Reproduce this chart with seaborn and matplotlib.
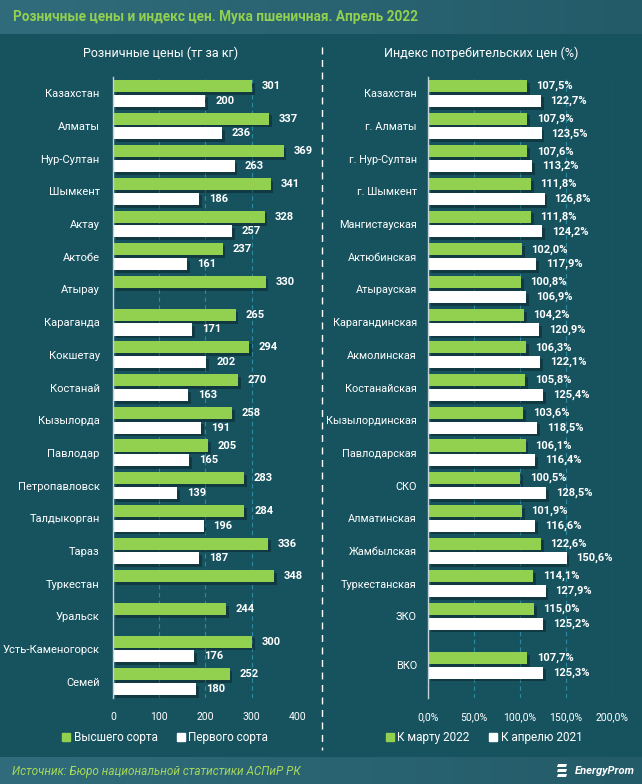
import numpy as np
import pandas as pd
import matplotlib
matplotlib.use('Agg')
from matplotlib import pyplot as plt
from matplotlib import patheffects as pe
from matplotlib.lines import Line2D
from matplotlib.patches import Polygon
import seaborn as sns

sns.set_theme(style='white')
plt.rcParams['font.family'] = ['Roboto', 'DejaVu Sans']

# розничные цены, тг за кг
cities = ['Казахстан', 'Алматы', 'Нур-Султан', 'Шымкент', 'Актау', 'Актобе', 'Атырау',
          'Караганда', 'Кокшетау', 'Костанай', 'Кызылорда', 'Павлодар', 'Петропавловск',
          'Талдыкорган', 'Тараз', 'Туркестан', 'Уральск', 'Усть-Каменогорск', 'Семей']
price_top = [301, 337, 369, 341, 328, 237, 330, 265, 294, 270, 258, 205, 283, 284, 336, 348, 244, 300, 252]
price_first = [200, 236, 263, 186, 257, 161, np.nan, 171, 202, 163, 191, 165, 139, 196, 187, np.nan, np.nan, 176, 180]

# индекс потребительских цен, %
regions = ['Казахстан', 'г. Алматы', 'г. Нур-Султан', 'г. Шымкент', 'Мангистауская', 'Актюбинская',
           'Атырауская', 'Карагандинская', 'Акмолинская', 'Костанайская', 'Кызылординская',
           'Павлодарская', 'СКО', 'Алматинская', 'Жамбылская', 'Туркестанская', 'ЗКО', 'ВКО']
cpi_mar = [107.5, 107.9, 107.6, 111.8, 111.8, 102.0, 100.8, 104.2, 106.3, 105.8, 103.6,
           106.1, 100.5, 101.9, 122.6, 114.1, 115.0, 107.7]
cpi_apr = [122.7, 123.5, 113.2, 126.8, 124.2, 117.9, 106.9, 120.9, 122.1, 125.4, 118.5,
           116.4, 128.5, 116.6, 150.6, 127.9, 125.2, 125.3]

sorts = ['Высшего сорта', 'Первого сорта']
periods = ['К марту 2022', 'К апрелю 2021']

GREEN = '#92d050'
WHITE = '#ffffff'
BG = '#17535f'
GRID = '#2b8aa1'

df_p = pd.DataFrame({'Город': cities * 2,
                     'Сорт': [sorts[0]] * len(cities) + [sorts[1]] * len(cities),
                     'Цена': price_top + price_first}).dropna()

# ВКО стоит чуть ниже, между двумя последними строками слева
pos = np.arange(len(regions), dtype=float)
pos[-1] += 0.5
df_i = pd.DataFrame({'pos': list(pos) * 2,
                     'Период': [periods[0]] * len(regions) + [periods[1]] * len(regions),
                     'Индекс': cpi_mar + cpi_apr})

W, H = 642, 784
fig = plt.figure(figsize=(W / 100, H / 100), dpi=100)
fig.patch.set_facecolor(BG)

# полосы заголовка и подвала
grad = np.linspace(0, 1, 256).reshape(1, -1)
band_cmap = matplotlib.colors.LinearSegmentedColormap.from_list('b', ['#306c7b', '#245b69'])
for y0, h in [(1 - 34 / H, 34 / H), (0, 27 / H)]:
    bax = fig.add_axes([0, y0, 1, h])
    bax.imshow(grad, aspect='auto', extent=[0, 1, 0, 1], cmap=band_cmap)
    bax.axis('off')

shadow = [pe.SimplePatchShadow(offset=(2, -2), shadow_rgbFace='black', alpha=0.3), pe.Normal()]

ax1 = fig.add_axes([113 / W, 1 - 698 / H, 185 / W, 621 / H])
ax2 = fig.add_axes([428 / W, 1 - 698 / H, 184 / W, 621 / H])

sns.barplot(data=df_p, x='Цена', y='Город', hue='Сорт', hue_order=sorts, order=cities,
            orient='h', palette=[GREEN, WHITE], saturation=1, width=0.9, gap=0.18,
            errorbar=None, legend=False, linewidth=0, ax=ax1)
sns.barplot(data=df_i, x='Индекс', y='pos', hue='Период', hue_order=periods,
            orient='h', native_scale=True, palette=[GREEN, WHITE], saturation=1,
            width=0.9, gap=0.18, errorbar=None, legend=False, linewidth=0, ax=ax2)

ax1.set_xlim(0, 400)
ax1.set_xticks([0, 100, 200, 300, 400])
ax2.set_xlim(0, 200)
ax2.set_xticks([0, 50, 100, 150, 200], labels=['0,0%', '50,0%', '100,0%', '150,0%', '200,0%'])
ax2.set_yticks(pos, labels=regions)

for ax, fmt, pad in [(ax1, lambda v: f'{v:.0f}', 9.5), (ax2, lambda v: f'{v:.1f}'.replace('.', ',') + '%', 8)]:
    ax.set_facecolor('none')
    ax.set_ylim(18.5, -0.5)
    ax.set_xlabel('')
    ax.set_ylabel('')
    for s in ['top', 'right', 'bottom']:
        ax.spines[s].set_visible(False)
    ax.spines['left'].set_color('#c7d2d6')
    ax.spines['left'].set_linewidth(1)
    ax.spines['left'].set_zorder(5)
    ax.grid(axis='x', color=GRID, linestyle=(0, (4, 3)), linewidth=0.8)
    ax.grid(axis='y', visible=False)
    ax.set_axisbelow(True)
    ax.tick_params(axis='y', length=0, pad=pad, labelsize=8, labelcolor='white')
    ax.tick_params(axis='x', length=0, pad=10, labelsize=7.5, labelcolor='white')
    for p in ax.patches:
        w = p.get_width()
        if np.isnan(w) or p.get_height() == 0:
            continue
        p.set_edgecolor('none')
        p.set_path_effects(shadow)
        ax.annotate(fmt(w), (w, p.get_y() + p.get_height() / 2), xytext=(7, 0),
                    textcoords='offset points', va='center', ha='left',
                    color='white', fontsize=8, fontweight='bold')
ax2.tick_params(axis='y', labelsize=7.8)

# тексты
fig.text(13 / W, 1 - 17 / H, 'Розничные цены и индекс цен. Мука пшеничная. Апрель 2022',
         color=GREEN, fontsize=9.8, fontweight='bold', va='center', ha='left')
fig.text(161 / W, 1 - 53 / H, 'Розничные цены (тг за кг)', color='white', fontsize=9,
         ha='center', va='center')
fig.text(481 / W, 1 - 53 / H, 'Индекс потребительских цен (%)', color='white', fontsize=9,
         ha='center', va='center')
fig.text(12 / W, 1 - 771 / H, 'Источник: Бюро национальной статистики АСПиР РК',
         color='#a6d75c', fontsize=8.5, fontstyle='italic', va='center', ha='left')
fig.text(635 / W, 1 - 771 / H, 'EnergyProm', color='white', fontsize=8, fontweight='bold',
         fontstyle='italic', va='center', ha='right')

# значок логотипа: три наклонные полоски
for k in range(3):
    top = 764 + k * 5
    pts = [(558, top), (567, top), (566, top + 3), (557, top + 3)]
    fig.add_artist(Polygon([(x / W, 1 - y / H) for x, y in pts], closed=True,
                           facecolor='white', edgecolor='none', zorder=10))

# разделитель
fig.add_artist(Line2D([322 / W, 322 / W], [1 - 47 / H, 1 - 750 / H], color='white',
                      linewidth=1, linestyle=(0, (5, 4))))

# легенды
def sq(c):
    return Line2D([], [], marker='s', linestyle='none', markersize=6, color=c)

for labels, cx in [(sorts, 165 / W), (periods, 484 / W)]:
    fig.legend([sq(GREEN), sq(WHITE)], labels, loc='center', bbox_to_anchor=(cx, 1 - 738 / H),
               ncol=2, frameon=False, fontsize=8.5, handlelength=0.7, handletextpad=0.3,
               columnspacing=1.6, labelcolor='white')

fig.savefig('out.png', dpi=100, facecolor=BG)
